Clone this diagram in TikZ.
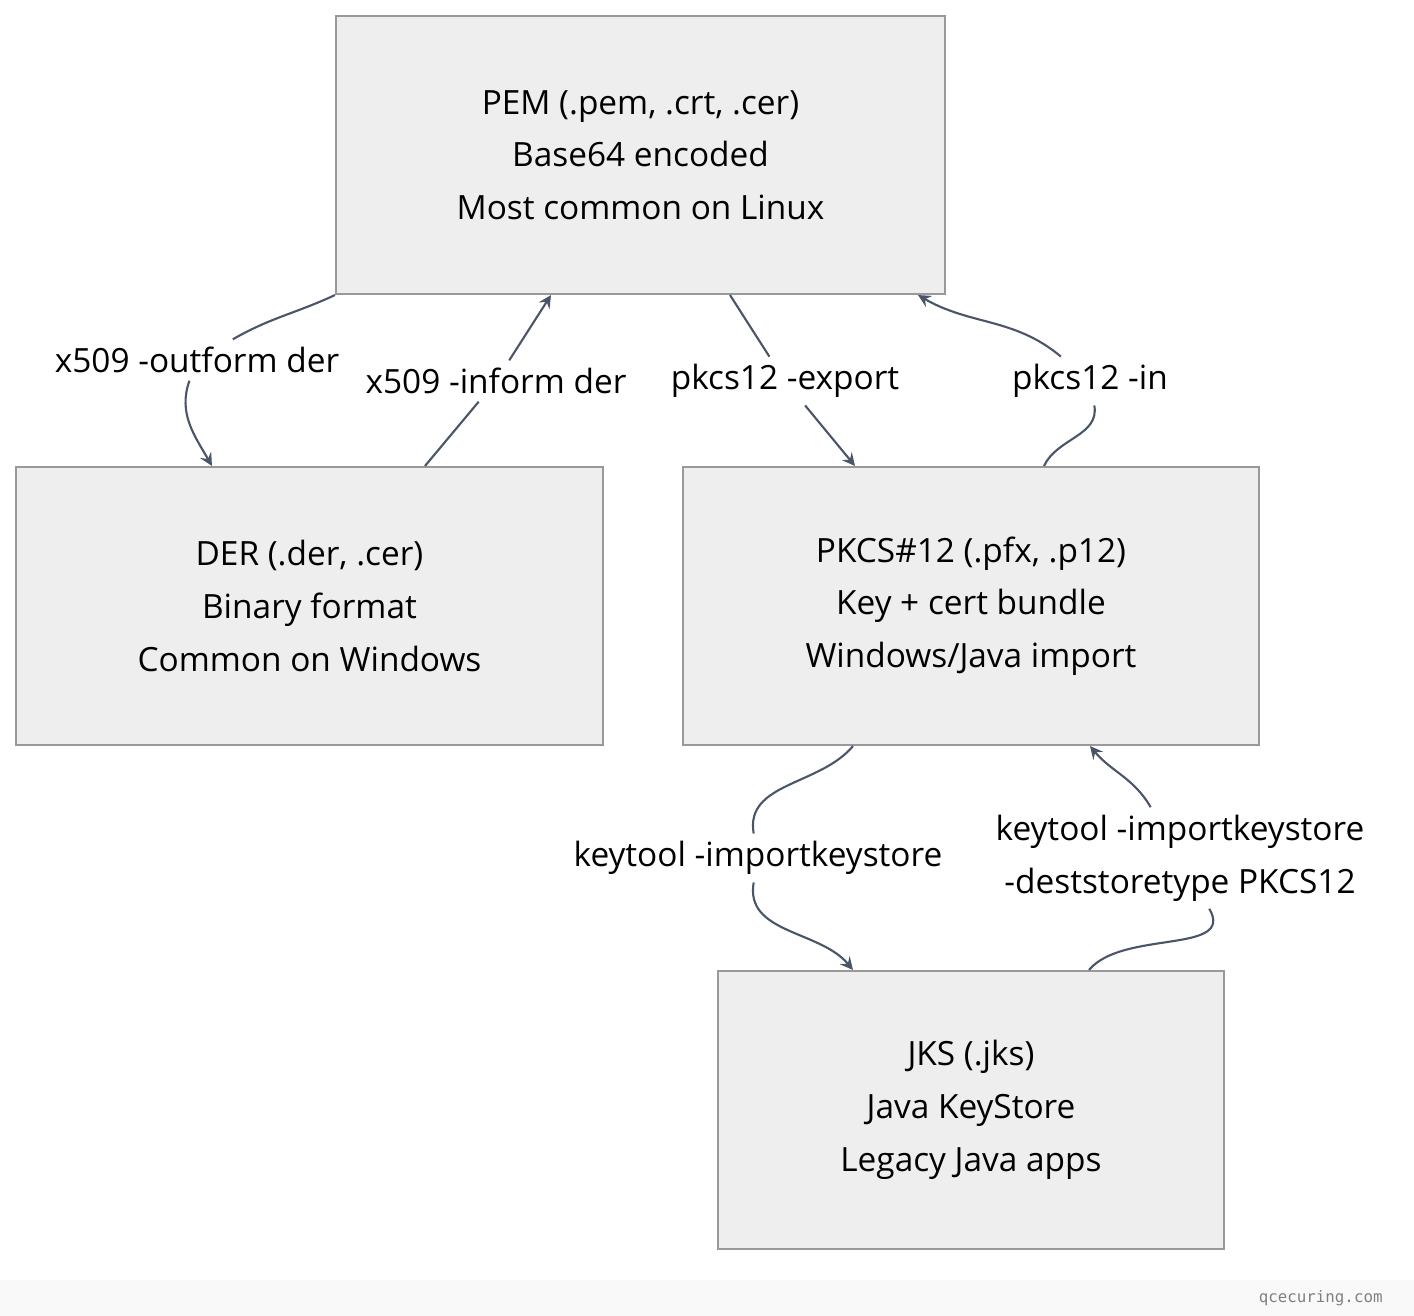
\documentclass[tikz,border=0pt]{standalone}
\usepackage{fontspec}
\setmainfont{Open Sans}
\setmonofont{DejaVu Sans Mono}
\usetikzlibrary{positioning}
\definecolor{boxfill}{HTML}{EEEEEE}
\definecolor{boxline}{HTML}{999999}
\definecolor{edgecol}{HTML}{4A5568}
\tikzset{
  fmt/.style={draw=boxline,fill=boxfill,line width=0.6pt,minimum width=#1,minimum height=2.78cm,
    align=center,font=\fontsize{9.5}{15}\selectfont,inner sep=0pt},
  lbl/.style={fill=white,align=center,font=\fontsize{9.5}{15}\selectfont,inner sep=2pt},
  edge/.style={draw=edgecol,line width=0.6pt},
  arr/.style={edge,-stealth}
}
\begin{document}
\begin{tikzpicture}
  \useasboundingbox (0,0) rectangle (14.14,-13.16);
  \fill[gray!5] (0,-12.80) rectangle (14.14,-13.16);
  \node[anchor=east,font=\ttfamily\fontsize{4.5}{5}\selectfont,text=gray] (wm) at (13.95,-12.98) {qcecuring.com};

  \node[fmt=6.09cm] (pem) at (6.405,-1.55) {PEM (.pem, .crt, .cer)\\Base64 encoded\\Most common on Linux};
  \node[fmt=5.87cm] (der) at (3.095,-6.06) {DER (.der, .cer)\\Binary format\\Common on Windows};
  \node[fmt=5.76cm] (pk) at (9.71,-6.06) {PKCS\#12 (.pfx, .p12)\\Key + cert bundle\\Windows/Java import};
  \node[fmt=5.06cm] (jks) at (9.71,-11.10) {JKS (.jks)\\Java KeyStore\\Legacy Java apps};

  % labels
  \node[lbl] (l1) at (1.97,-3.60) {x509 -outform der};
  \node[lbl] (l2) at (4.96,-3.81) {x509 -inform der};
  \node[lbl] (l3) at (7.85,-3.81) {pkcs12 -export};
  \node[lbl] (l4) at (10.90,-3.81) {pkcs12 -in};
  \node[lbl] (l5) at (7.58,-8.58) {keytool -importkeystore};
  \node[lbl] (l6) at (11.80,-8.58) {keytool -importkeystore\\-deststoretype PKCS12};

  %pem>der
  \draw[edge] (pem.south west) to[out=-155,in=30] (l1);
  \draw[arr] (l1) to[out=-110,in=120] ([xshift=-0.975cm]der.north);
  %der>pem
  \draw[edge] ([xshift=1.155cm]der.north) -- (l2);
  \draw[arr] (l2) -- ([xshift=-0.895cm]pem.south);
  %pem>pkcs
  \draw[edge] ([xshift=0.895cm]pem.south) -- (l3);
  \draw[arr] (l3) -- ([xshift=-1.16cm]pk.north);
  %pkcs>pem
  \draw[edge] ([xshift=0.73cm]pk.north) to[out=65,in=-80] (l4);
  \draw[arr] (l4) to[out=140,in=-30] ([xshift=2.775cm]pem.south);
  %pkcs>jks
  \draw[edge] ([xshift=-1.18cm]pk.south) to[out=-130,in=100] (l5);
  \draw[arr] (l5) to[out=-100,in=130] ([xshift=-1.18cm]jks.north);
  %jks>pkcs
  \draw[edge] ([xshift=1.18cm]jks.north) to[out=50,in=-60] (l6);
  \draw[arr] (l6) to[out=120,in=-50] ([xshift=1.19cm]pk.south);
\end{tikzpicture}
\end{document}
